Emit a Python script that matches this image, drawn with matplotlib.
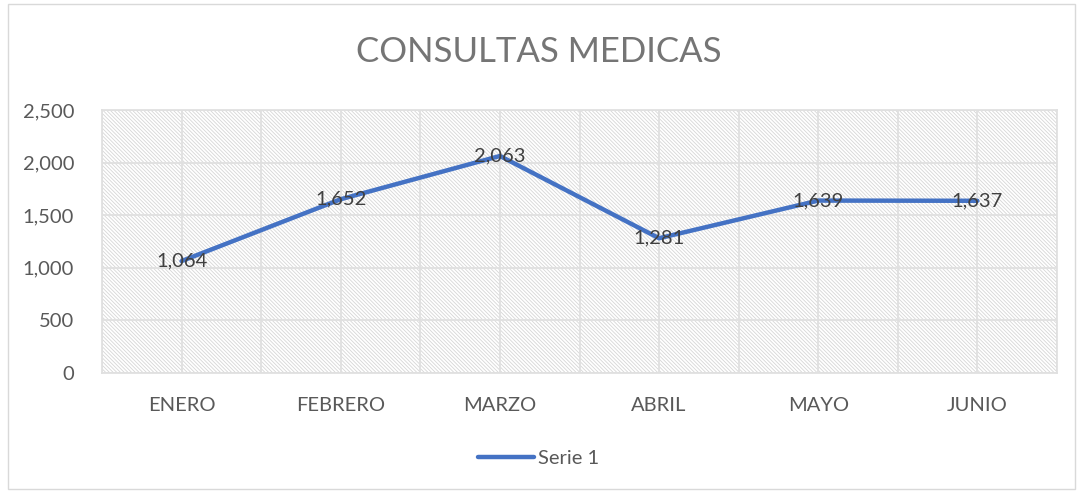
import matplotlib.pyplot as plt
import numpy as np

plt.rcParams['font.family'] = ['Lato', 'DejaVu Sans']
plt.rcParams['hatch.color'] = '#d6d6d6'
plt.rcParams['hatch.linewidth'] = 0.6

meses = ['ENERO', 'FEBRERO', 'MARZO', 'ABRIL', 'MAYO', 'JUNIO']
consultas = [1064, 1652, 2063, 1281, 1639, 1637]
serie = 'Serie 1'

W, H = 1077, 491
fig = plt.figure(figsize=(W / 100, H / 100), dpi=100)
ax = fig.add_axes([102/W, 1 - 373/H, (1057 - 102)/W, (373 - 110)/H])

x = np.arange(len(meses))
ax.set_xlim(-0.5, len(meses) - 0.5)
ax.set_ylim(0, 2500)

# hatched background (dense diagonal)
ax.axvspan(-0.5, len(meses) - 0.5, facecolor='white', edgecolor='#d6d6d6',
           hatch='\\' * 9, linewidth=0, zorder=0)

# grid: horizontal at ticks, vertical at category centres and boundaries
ax.set_yticks(np.arange(0, 2501, 500))
ax.set_yticklabels(['{:,}'.format(v) for v in range(0, 2501, 500)])
ax.set_xticks(x)
ax.set_xticklabels(meses)
ax.set_xticks(np.arange(-0.5, len(meses), 1), minor=True)
ax.grid(True, which='major', color='#e0e0e0', linewidth=1.3, zorder=1)
ax.grid(True, which='minor', axis='x', color='#e0e0e0', linewidth=1.3, zorder=1)
ax.tick_params(which='both', length=0)
ax.tick_params(axis='y', labelsize=14.5, labelcolor='#595959', pad=20)
ax.tick_params(axis='x', labelsize=14.5, labelcolor='#595959', pad=17)
for s in ax.spines.values():
    s.set_color('#e0e0e0')
    s.set_linewidth(1.3)

line, = ax.plot(x, consultas, color='#4472C4', linewidth=3.2, label=serie,
                solid_capstyle='round', zorder=3)
for xi, v in zip(x, consultas):
    ax.text(xi, v, '{:,}'.format(v), ha='center', va='center', fontsize=14.5,
            color='#404040', zorder=4)

fig.text(0.5, 1 - 52/H, 'CONSULTAS MEDICAS', ha='center', va='center',
         fontsize=25, color='#757575')

leg = fig.legend(handles=[line], loc='center', bbox_to_anchor=(0.5, 1 - 458/H),
                 frameon=False, fontsize=14.5, handlelength=2.8, handletextpad=0.2)
for t in leg.get_texts():
    t.set_color('#595959')

# outer border
fig.patches.append(plt.Rectangle((8/W, 2/H), 1 - 10/W, 1 - 6/H,
                                 transform=fig.transFigure, fill=False,
                                 edgecolor='#d9d9d9', linewidth=1))

fig.savefig('out.png', dpi=100)
